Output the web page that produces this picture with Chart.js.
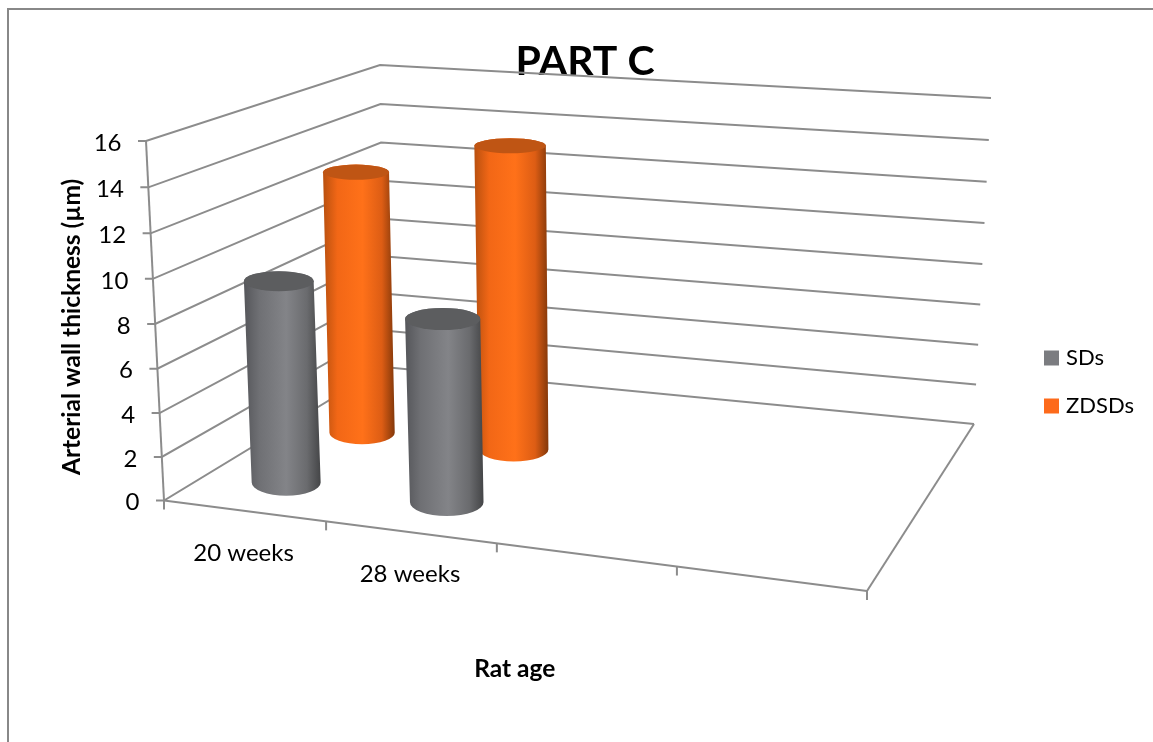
<!DOCTYPE html>
<html>
    <head>
        <meta charset="utf-8">
        <title>PART C</title>
        <script src="https://cdn.jsdelivr.net/npm/chart.js@4/dist/chart.umd.min.js"></script>
        <style>
            html, body { margin: 0; padding: 0; background: #fff; overflow: hidden; }
            canvas { display: block; }
        </style>
    </head>
    <body>
        <canvas id="data" width="1153" height="742"></canvas>
        <script>
            const categories = ["20 weeks", "28 weeks", "", ""];
            const sdValues = [9.3, 8.3];
            const zdsdValues = [12.7, 14.45];
            const yMax = 16;
            const yStep = 2;

            const fontName = "Lato, 'Open Sans', sans-serif";
            const lineColor = "#8c8c8c";
            const barStyles = [
                {stops: ["#55565a", "#6f7074", "#838488", "#6a6b6e", "#444547"], cap: "#5c5d5f"},
                {stops: ["#b9500f", "#f26716", "#ff7119", "#dd5d14", "#83380a"], cap: "#bf5514"}
            ];

            // floor and h=max plane of the 3D box, front-left, front-right, back-right, back-left
            const floorCorners = [[164, 500.5], [867, 591], [974, 424], [384, 367]];
            const topCorners = [[146, 141], [895, 200], [991, 98], [380, 65]];
            const perspective = -0.0354;
            const seriesDepth = [0.175, 0.52];
            const barRadiusU = 0.056;
            const barRadiusV = 0.085;

            function makeQuad(p) {
                var dx1 = p[1][0] - p[2][0], dx2 = p[3][0] - p[2][0], sx = p[0][0] - p[1][0] + p[2][0] - p[3][0];
                var dy1 = p[1][1] - p[2][1], dy2 = p[3][1] - p[2][1], sy = p[0][1] - p[1][1] + p[2][1] - p[3][1];
                var den = dx1 * dy2 - dx2 * dy1;
                var g = (sx * dy2 - dx2 * sy) / den;
                var h = (dx1 * sy - sx * dy1) / den;
                var a = p[1][0] - p[0][0] + g * p[1][0], b = p[3][0] - p[0][0] + h * p[3][0];
                var d = p[1][1] - p[0][1] + g * p[1][1], e = p[3][1] - p[0][1] + h * p[3][1];
                return function(u, v) {
                    var w = g * u + h * v + 1;
                    return [(a * u + b * v + p[0][0]) / w, (d * u + e * v + p[0][1]) / w];
                };
            }
            const floorAt = makeQuad(floorCorners);
            const topAt = makeQuad(topCorners);

            // u along categories, v into the depth, t height fraction (from the y scale)
            function project(u, v, t) {
                var f = t * (1 + perspective) / (1 + perspective * t);
                var a = floorAt(u, v), b = topAt(u, v);
                return [a[0] + (b[0] - a[0]) * f, a[1] + (b[1] - a[1]) * f];
            }
            // the category ticks on the front edge sit a bit further right than the plain quad
            function frontPoint(u) {
                return project(u + 0.03 * u * (1 - u), 0, 0);
            }
            function heightOf(chart, value) {
                var area = chart.chartArea;
                return (area.bottom - chart.scales.y.getPixelForValue(value)) / (area.bottom - area.top);
            }
            function segment(ctx, a, b) {
                ctx.beginPath();
                ctx.moveTo(a[0], a[1]);
                ctx.lineTo(b[0], b[1]);
                ctx.stroke();
            }

            function drawBox(chart) {
                var ctx = chart.ctx;
                ctx.save();
                ctx.strokeStyle = lineColor;
                ctx.lineWidth = 2;
                chart.scales.y.ticks.forEach(function(tick) {
                    var t = heightOf(chart, tick.value);
                    var front = project(0, 0, t), back = project(0, 1, t), end = project(1, 1, t);
                    ctx.beginPath();
                    ctx.moveTo(front[0] - 8, front[1]);
                    ctx.lineTo(front[0], front[1]);
                    ctx.lineTo(back[0], back[1]);
                    ctx.lineTo(end[0], end[1]);
                    ctx.stroke();
                });
                segment(ctx, project(0, 0, 0), project(0, 0, 1));
                segment(ctx, project(0, 0, 0), project(1, 0, 0));
                segment(ctx, project(1, 0, 0), project(1, 1, 0));
                for (var i = 0; i <= categories.length; i++) {
                    var p = frontPoint(i / categories.length);
                    segment(ctx, p, [p[0], p[1] + 9]);
                }
                ctx.restore();
            }

            // flat ellipse of the bar section at height t
            function section(u, v, t) {
                var c = project(u, v, t);
                var l = project(u - barRadiusU, v, t), r = project(u + barRadiusU, v, t);
                var n = project(u, v - barRadiusV, t), f = project(u, v + barRadiusV, t);
                return {x: c[0], y: c[1], rx: Math.abs(r[0] - l[0]) / 2, ry: Math.abs(n[1] - f[1]) / 2};
            }

            function drawCylinder(chart, datasetIndex, index, value) {
                var ctx = chart.ctx;
                var x = chart.scales.x;
                var u = (x.getPixelForValue(index) - x.left) / x.width;
                u += 0.02 * u * (1 - u);
                var v = seriesDepth[datasetIndex];
                var style = barStyles[datasetIndex];
                var base = section(u, v, 0);
                var top = section(u, v, heightOf(chart, value));

                var left = Math.min(base.x - base.rx, top.x - top.rx);
                var right = Math.max(base.x + base.rx, top.x + top.rx);
                var grad = ctx.createLinearGradient(left, 0, right, 0);
                grad.addColorStop(0, style.stops[0]);
                grad.addColorStop(0.2, style.stops[1]);
                grad.addColorStop(0.55, style.stops[2]);
                grad.addColorStop(0.82, style.stops[3]);
                grad.addColorStop(1, style.stops[4]);

                ctx.save();
                ctx.fillStyle = grad;
                ctx.beginPath();
                ctx.ellipse(base.x, base.y, base.rx, base.ry, 0, Math.PI, 0, true);
                ctx.ellipse(top.x, top.y, top.rx, top.ry, 0, 0, Math.PI, true);
                ctx.closePath();
                ctx.fill();

                ctx.fillStyle = style.cap;
                ctx.beginPath();
                ctx.ellipse(top.x, top.y, top.rx, top.ry, 0, 0, 2 * Math.PI);
                ctx.fill();
                ctx.restore();
            }

            const box3d = {
                id: "box3d",
                afterLayout: function(chart) {
                    // native boxes, moved to where the original sits
                    var legend = chart.legend, title = chart.titleBlock;
                    legend.left = 1048 - legend.options.labels.padding;
                    legend.right = 1153;
                    legend.top = 347 - legend.options.labels.padding;
                    var w = title.right - title.left;
                    title.left = 585 - w / 2;
                    title.right = 585 + w / 2;
                },
                beforeDraw: function(chart) {
                    var ctx = chart.ctx;
                    ctx.save();
                    ctx.fillStyle = "#fff";
                    ctx.fillRect(0, 0, chart.width, chart.height);
                    ctx.strokeStyle = "#888";
                    ctx.lineWidth = 2;
                    ctx.beginPath();
                    ctx.moveTo(8, chart.height);
                    ctx.lineTo(8, 9);
                    ctx.lineTo(chart.width, 9);
                    ctx.stroke();
                    ctx.restore();
                },
                beforeDatasetsDraw: function(chart) {
                    drawBox(chart);
                },
                beforeDatasetDraw: function() {
                    return false;
                },
                afterDatasetsDraw: function(chart) {
                    for (var i = chart.data.datasets.length - 1; i >= 0; i--) {
                        chart.data.datasets[i].data.forEach(function(value, j) {
                            drawCylinder(chart, i, j, value);
                        });
                    }
                },
                afterDraw: function(chart) {
                    var ctx = chart.ctx;
                    ctx.save();
                    ctx.fillStyle = "#000";
                    ctx.font = "24px " + fontName;
                    ctx.textAlign = "right";
                    ctx.textBaseline = "middle";
                    chart.scales.y.ticks.forEach(function(tick) {
                        var p = project(0, 0, heightOf(chart, tick.value));
                        ctx.fillText(tick.label, p[0] - 24.5, p[1] + 2);
                    });
                    ctx.textAlign = "center";
                    var x = chart.scales.x;
                    x.ticks.forEach(function(tick, i) {
                        var a = frontPoint(i / x.ticks.length), b = frontPoint((i + 1) / x.ticks.length);
                        ctx.fillText(tick.label, (a[0] + b[0]) / 2 - 1.5, (a[1] + b[1]) / 2 + 42);
                    });
                    ctx.restore();
                }
            };

            var ctx = document.getElementById("data").getContext("2d");
            var chart = new Chart(ctx, {
                type: "bar",
                data: {
                    labels: categories,
                    datasets: [
                        {label: "SDs", data: sdValues, backgroundColor: "#7b7c80", borderColor: "#7b7c80", borderWidth: 8},
                        {label: "ZDSDs", data: zdsdValues, backgroundColor: "#fd6a1b", borderColor: "#fd6a1b", borderWidth: 8}
                    ]
                },
                plugins: [box3d],
                options: {
                    responsive: false,
                    animation: false,
                    layout: {padding: {left: 0, right: 170, top: 0, bottom: 0}},
                    plugins: {
                        tooltip: {enabled: false},
                        title: {
                            display: true,
                            text: "PART C",
                            color: "#000",
                            font: {family: fontName, size: 41, weight: "bold"},
                            padding: {top: 37, bottom: 55}
                        },
                        legend: {
                            position: "right",
                            align: "start",
                            labels: {
                                color: "#000",
                                boxWidth: 7,
                                boxHeight: 7,
                                padding: 26,
                                font: {family: fontName, size: 22}
                            }
                        }
                    },
                    scales: {
                        x: {
                            grid: {display: false},
                            border: {display: false},
                            ticks: {display: false},
                            title: {
                                display: true,
                                text: "Rat age",
                                color: "#000",
                                font: {family: fontName, size: 24.5, weight: "bold"},
                                padding: {top: 134, bottom: 58}
                            }
                        },
                        y: {
                            min: 0,
                            max: yMax,
                            grid: {display: false},
                            border: {display: false},
                            ticks: {display: false, stepSize: yStep},
                            title: {
                                display: true,
                                text: "Arterial wall thickness (µm)",
                                color: "#000",
                                font: {family: fontName, size: 24.5, weight: "bold"},
                                padding: {top: 57, bottom: 74}
                            }
                        }
                    }
                }
            });
        </script>
    </body>
</html>
